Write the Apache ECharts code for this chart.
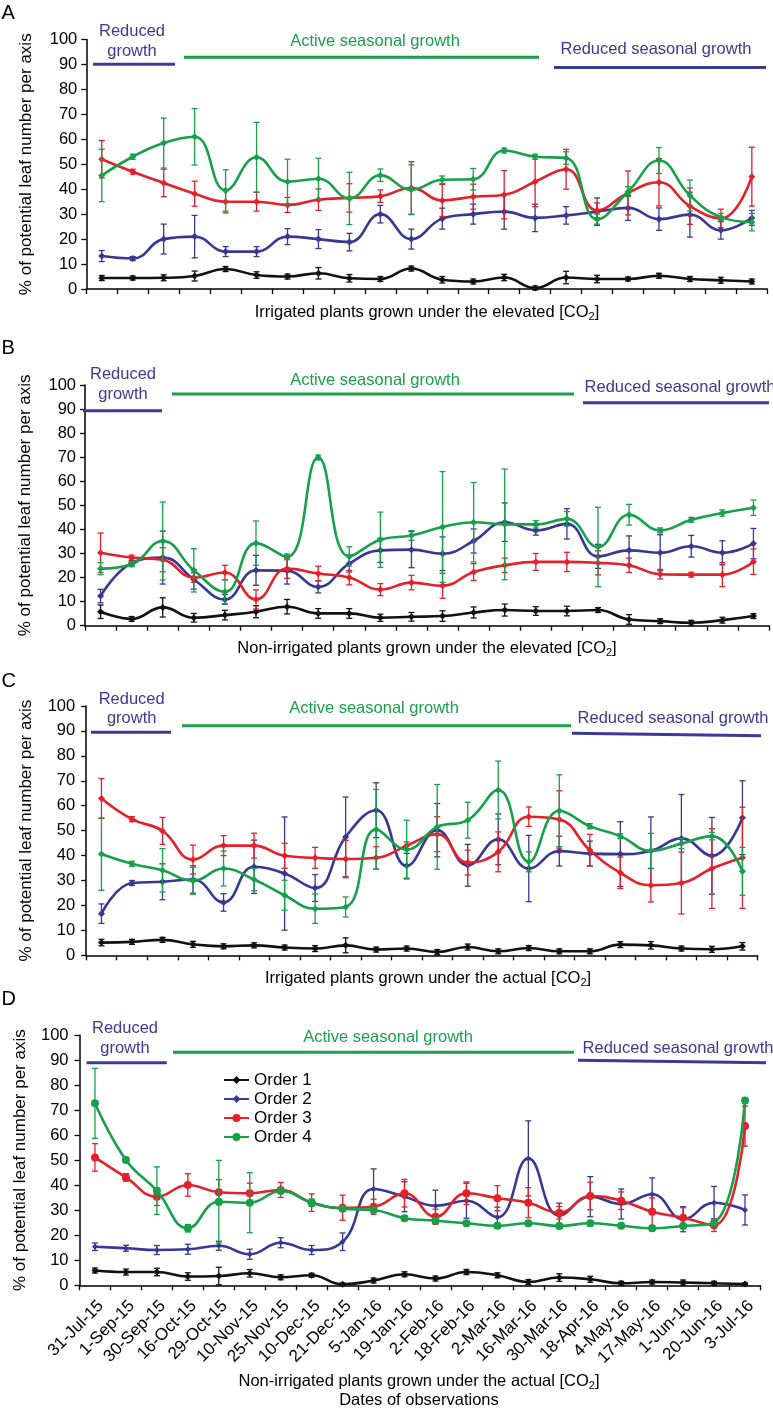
<!DOCTYPE html>
<html>
<head>
<meta charset="utf-8">
<script src="https://cdn.jsdelivr.net/npm/echarts@6/dist/echarts.min.js"></script>
<style>
html,body{margin:0;padding:0;background:#fff;}
#c{width:773px;height:1410px;}
</style>
</head>
<body>
<div id="c"></div>
<script>
// ---------- data ----------
const dates = ['31-Jul-15','1-Sep-15','30-Sep-15','16-Oct-15','29-Oct-15','10-Nov-15','25-Nov-15','10-Dec-15','21-Dec-15','5-Jan-16','19-Jan-16','2-Feb-16','18-Feb-16','2-Mar-16','16-Mar-16','30-Mar-16','18-Apr-16','4-May-16','17-May-16','1-Jun-16','20-Jun-16','3-Jul-16'];
const seriesNames = ['Order 1','Order 2','Order 3','Order 4'];
const yTicks = [0,10,20,30,40,50,60,70,80,90,100];

// Panel A: irrigated, elevated CO2
const a1 = [4.4,4.4,4.5,5.2,8.0,5.6,5.0,6.3,4.3,4.0,8.2,3.7,3.0,4.6,0.4,4.6,4.0,4.0,5.3,4.0,3.5,3.0];
const a1e = [1,0.8,1.2,2,1,1.3,1,2.3,1.5,1,1,1.3,1,1.3,0.8,2.5,1.5,0.8,1,1,1.2,1];
const a2 = [13.2,12.2,20.0,21.0,15.0,15.0,21.0,20.0,18.8,30.0,20.0,28.2,30.0,31.0,28.5,29.5,31.0,32.5,28.0,29.8,23.5,28.5];
const a2e = [2.2,0.8,6,8.5,2,2,3.2,3.8,3.5,3.5,4,4.2,4,7,5.5,3.5,5.5,5,4.5,9,3.5,3];
const a3 = [52,47,42.5,38.2,35,35,33.7,35.8,36.5,37.2,40.5,35.5,37,37.8,43,48,31.5,38.5,42.8,33.2,28.3,45];
const a3e = [7.5,1,5.5,5,4.5,3.8,3,4.3,5.7,2.5,10.5,6.4,5,9.7,10,8,3,8.8,9.5,7.3,3.7,11.8];
const a4 = [45.5,53,58.5,61,39.5,52.8,43,44.2,36.3,45.6,39.8,43.8,44,55.5,53,52.5,28,39,51.5,37.5,28.8,26.8];
const a4e = [10.5,1,10,11.3,8.3,14,9,8.2,10.5,2.5,10,1.5,4.3,1,1,2.5,2,2,5.2,6.2,1.5,3.5];

// Panel B: non-irrigated, elevated CO2
const b1 = [5.8,2.8,7.6,3.3,4.4,5.8,7.9,5.1,5.1,3.3,3.7,4.0,5.5,6.5,6.1,6.1,6.5,2.6,1.9,1.2,2.3,4.0];
const b1e = [2.8,1,4,1.8,2,2.5,3,2,2,1.5,1.8,2.2,2.3,2.5,1.8,2,1,2,1,1,1.2,1];
const b2 = [12.3,26,28.3,19.2,10.9,23,22.8,16.1,25.8,31.3,31.6,29.9,35.2,43,39.6,42.3,28.8,31.3,30.3,33,30.3,34.1];
const b2e = [2.8,1,11,4,2,6.2,5.5,2.5,3.5,5,7.5,7,5,8,2,6.3,5,6,7.5,4.5,5,6.3];
const b3 = [30.3,28.3,27.4,20,22.1,10.9,23.7,21.7,20,15,17.9,16.6,22.3,25.1,26.5,26.5,26.1,25.1,21.4,21.2,21.2,26.6];
const b3e = [8.2,1,5,2,3,4,4,3,3,2.5,3,5.2,3.5,3,3.5,4,5,3,2,1,5,5.3];
const b4 = [23.7,25.5,35.2,23,14.1,34.3,28.6,69.9,28.8,35.7,37.5,41,43,42.1,42.1,44.4,32.7,46.1,39.6,44,46.8,49];
const b4e = [2.5,1,16.2,9,5,9.2,1.2,1,4,11.5,2,23,16.5,23,1.5,3,16.5,4.3,1,1,1.3,3.2];

// Panel C: irrigated, actual CO2
const c1 = [5.1,5.4,6.2,4.4,3.6,4.0,3.1,2.7,4.0,2.3,2.7,1.3,3.3,1.6,2.9,1.6,1.6,4.3,4.0,2.7,2.4,3.6];
const c1e = [1.3,1,1,1.2,1,1,1,1.2,3,1,1,1,1.2,1,1,1,1,1.2,1.5,1,1.2,1.5];
const c2 = [16.7,29,29.5,30.4,21.2,35.5,32.8,27,47.5,58.2,35.9,50.2,36.1,46.5,34.8,41.8,40.8,40.6,41.9,46.9,39.9,55.2];
const c2e = [3.9,1,7.2,5.5,3.5,10.7,22.7,5.4,16,11,5,10.7,8.4,10.2,13.3,6,5,13,13.6,17.6,15.4,14.8];
const c3 = [62.9,54.6,49.9,38.4,44,44,39.9,39.1,38.6,39.1,44,48.6,37.2,41.5,55.6,54.5,42.2,33.1,28.1,29,34.8,39.1];
const c3e = [8,1,5.4,5.8,4,5,5,4.2,7.5,4.5,1.5,7,5,8,3.9,11.5,6.3,6.3,6.7,12.4,16,20.3];
const c4 = [40.6,36.7,34.1,29.9,34.8,30.4,24.1,18.7,19.4,50.5,42.4,51.5,54.2,66.3,37.5,58,51.8,47.8,41.9,44.8,47.8,33.7];
const c4e = [14.5,1,8.7,5.4,7,4.5,6,5.9,4,16,11.8,17,7.2,11.6,4,14.4,1,1,7,2,1.5,9.6];

// Panel D: non-irrigated, actual CO2
const d1 = [5.9,5.3,5.3,3.5,3.7,4.8,3.2,4.0,0.4,1.9,4.4,2.7,5.3,4.0,1.3,3.1,2.4,0.8,1.3,1.1,0.8,0.5];
const d1e = [1,1.2,1.5,1.5,3.5,1.5,1,0.8,0.5,1,1,1,1,1,1,1.5,1.2,0.8,0.8,1,0.8,0.5];
const d2 = [15.4,14.8,14.1,14.4,15.8,12.4,17,14.1,17.4,38.5,35.4,31.8,33.8,27.2,50.7,27.8,35.4,32.5,36.4,26.4,33,30.1];
const d2e = [1.5,1.2,1.8,2,1.8,2,2,1.8,3.5,8,6,6.2,7,4,15,5,8,6,6.5,5,6.5,6];
const d3 = [51.1,43.1,35.4,40.1,37.2,36.8,38.1,33,31,31.4,36.8,27.4,36.8,34.8,33,29,35.7,33.8,29.4,27,24,63.6];
const d3e = [5.5,1.5,3.5,4.5,5,4,3,3.5,5,3,5.5,3,4.5,5,6,2.5,5.5,3.5,5.5,4,2.5,8];
const d4 = [72.7,50.1,37.8,22.8,33.4,33,37.7,33,30.6,30.1,26.8,25.8,24.8,23.8,24.8,23.7,24.8,23.8,22.8,23.7,25,73.8];
const d4e = [14,1,9.5,1.5,16.5,12,1,1.5,1,1,1,1,1,1,1,1,1,1,1,1,1,1];

// ---------- styling / layout ----------
const FF = "'Liberation Sans', Arial, Helvetica, sans-serif";
const COLORS = ['#111111','#363894','#e4202a','#17a04a'];
const TXT_BLUE = '#3a3a98', TXT_GREEN = '#1aa04a';

const panels = [
  { key:'A', vals:[a1,a2,a3,a4], errs:[a1e,a2e,a3e,a4e],
    grid:{left:86.3, top:39.5, width:681, height:249.5}, ymargin:9, letterY:3.5,
    texts:[['Reduced',132,31.5,TXT_BLUE],['growth',132,51,TXT_BLUE],['Active seasonal growth',375,41.5,TXT_GREEN],['Reduced seasonal growth',656,49.5,TXT_BLUE]],
    lines:[[93,64.3,175,64.3,TXT_BLUE],[184,57.3,539,57.3,TXT_GREEN],[554,67.5,766,67.5,TXT_BLUE]],
    title:['Irrigated plants grown under the elevated [CO',427,312] },
  { key:'B', vals:[b1,b2,b3,b4], errs:[b1e,b2e,b3e,b4e],
    grid:{left:85, top:385, width:684, height:240.7}, ymargin:9, letterY:338.5,
    texts:[['Reduced',123,374.7,TXT_BLUE],['growth',123,394,TXT_BLUE],['Active seasonal growth',375,380,TXT_GREEN],['Reduced seasonal growth',680,387.8,TXT_BLUE]],
    lines:[[83,410.7,162,410.7,TXT_BLUE],[172,394,574,394,TXT_GREEN],[583,402.7,769,402.7,TXT_BLUE]],
    title:['Non-irrigated plants grown under the elevated [CO',427,648.7] },
  { key:'C', vals:[c1,c2,c3,c4], errs:[c1e,c2e,c3e,c4e],
    grid:{left:86.2, top:706, width:671.5, height:249.3}, ymargin:11, letterY:671.5,
    texts:[['Reduced',131.7,699.5,TXT_BLUE],['growth',131.7,718.3,TXT_BLUE],['Active seasonal growth',374,708.3,TXT_GREEN],['Reduced seasonal growth',673,718.8,TXT_BLUE]],
    lines:[[91,732.3,171,732.3,TXT_BLUE],[182,725.7,571,725.7,TXT_GREEN],[572,733.3,761,735.7,TXT_BLUE]],
    title:['Irrigated plants grown under the actual [CO',428,978.3] },
  { key:'D', vals:[d1,d2,d3,d4], errs:[d1e,d2e,d3e,d4e],
    grid:{left:79.5, top:1035, width:681, height:250.3}, ymargin:11, letterY:989.5,
    texts:[['Reduced',125,1028.5,TXT_BLUE],['growth',125,1048.3,TXT_BLUE],['Active seasonal growth',388,1037.5,TXT_GREEN],['Reduced seasonal growth',678,1048.2,TXT_BLUE]],
    lines:[[86.6,1062.7,166.8,1062.7,TXT_BLUE],[173,1052.3,574,1052.3,TXT_GREEN],[578,1060.3,766,1062.7,TXT_BLUE]],
    title:['Non-irrigated plants grown under the actual [CO',419,1381] }
];

function errRender(color){
  return function(params, api){
    const x = api.value(0);
    const top = api.coord([x, api.value(2)]);
    const bot = api.coord([x, api.value(1)]);
    const h = 3;
    const st = {stroke: color, lineWidth: 1.3};
    return {type:'group', children:[
      {type:'line', shape:{x1:top[0],y1:top[1],x2:bot[0],y2:bot[1]}, style:st},
      {type:'line', shape:{x1:top[0]-h,y1:top[1],x2:top[0]+h,y2:top[1]}, style:st},
      {type:'line', shape:{x1:bot[0]-h,y1:bot[1],x2:bot[0]+h,y2:bot[1]}, style:st}
    ]};
  };
}

const grids = [], xAxes = [], yAxes = [], series = [], graphics = [];
// draw D first so the legend takes its symbols
const order = [3,0,1,2];
panels.forEach((p, pi) => {
  grids.push(Object.assign({containLabel:false}, p.grid));
  const isD = p.key === 'D';
  xAxes.push({
    type:'category', gridIndex:pi, data:dates, boundaryGap:true,
    axisLine:{lineStyle:{color:'#000', width:1.5}},
    axisTick:{show:true, interval:0, length:5, lineStyle:{color:'#000', width:1.3}},
    axisLabel: isD ? {show:true, interval:0, rotate:45, align:'right', verticalAlign:'top', margin:12,
                      fontSize:17, fontFamily:FF, color:'#000'} : {show:false},
    splitLine:{show:false}
  });
  yAxes.push({
    type:'value', gridIndex:pi, min:0, max:100, interval:10,
    name:'% of potential leaf number per axis', nameLocation:'middle', nameGap:51,
    nameTextStyle:{fontSize:17, fontFamily:FF, color:'#000'},
    axisLine:{show:true, lineStyle:{color:'#000', width:1.5}},
    axisTick:{show:true, length:5, lineStyle:{color:'#000', width:1.3}},
    axisLabel:{fontSize:16.5, fontFamily:FF, color:'#000', margin:p.ymargin,
               formatter: v => yTicks.indexOf(v) >= 0 ? String(v) : ''},
    splitLine:{show:false}
  });
  // annotation texts & lines
  p.texts.forEach(t => graphics.push({type:'text', x:t[1], y:t[2], z:10,
    style:{text:t[0], fill:t[3], font:'16.5px ' + FF, align:'center', verticalAlign:'middle'}}));
  p.lines.forEach(l => graphics.push({type:'line', z:10,
    shape:{x1:l[0], y1:l[1], x2:l[2], y2:l[3]}, style:{stroke:l[4], lineWidth:3}}));
  graphics.push({type:'text', x:p.title[1], y:p.title[2], z:10,
    style:{text:'{t|' + p.title[0] + '}{s|2}{t|]}', align:'center', verticalAlign:'middle',
      rich:{t:{fontSize:16.5, fontFamily:FF, fill:'#000', lineHeight:20},
            s:{fontSize:11, fontFamily:FF, fill:'#000', verticalAlign:'bottom', lineHeight:11}}}});
  graphics.push({type:'text', x:1.5, y:p.letterY, z:10,
    style:{text:p.key, fill:'#000', font:'20px ' + FF, align:'left', verticalAlign:'top'}});
});
graphics.push({type:'text', x:419, y:1400.7, z:10,
  style:{text:'Dates of observations', fill:'#000', font:'16.5px ' + FF, align:'center', verticalAlign:'middle'}});

order.forEach(pi => {
  const p = panels[pi];
  const isD = p.key === 'D';
  p.vals.forEach((vals, si) => {
    const color = COLORS[si];
    let symbol = 'diamond', size = 7;
    if (isD) {
      if (si === 1) size = 6;
      if (si >= 2) { symbol = 'circle'; size = 8; }
    }
    series.push({
      type:'line', name: isD ? seriesNames[si] : seriesNames[si] + ' (' + p.key + ')',
      xAxisIndex:pi, yAxisIndex:pi, data:vals, smooth:0.45,
      symbol:symbol, symbolSize:size, showSymbol:true,
      lineStyle:{color:color, width:2.6}, itemStyle:{color:color},
      emphasis:{disabled:true}, z:3 + si
    });
    series.push({
      type:'custom', name:'err' + p.key + si, xAxisIndex:pi, yAxisIndex:pi,
      renderItem: errRender(color), clip:false,
      encode:{x:0, y:[1,2]},
      data: vals.map((v, i) => [i, v - p.errs[si][i], v + p.errs[si][i]]),
      z:3 + si, silent:true
    });
  });
});

const chart = echarts.init(document.getElementById('c'), null, {renderer:'canvas'});
chart.setOption({
  backgroundColor:'#fff',
  animation:false,
  textStyle:{fontFamily:FF},
  legend:{
    data:seriesNames, orient:'vertical', left:218, top:1066.5,
    itemWidth:25, itemHeight:10, itemGap:2,
    textStyle:{fontSize:17, fontFamily:FF, color:'#000', lineHeight:17},
    selectedMode:false
  },
  grid:grids, xAxis:xAxes, yAxis:yAxes, series:series, graphic:graphics
});
</script>
</body>
</html>
